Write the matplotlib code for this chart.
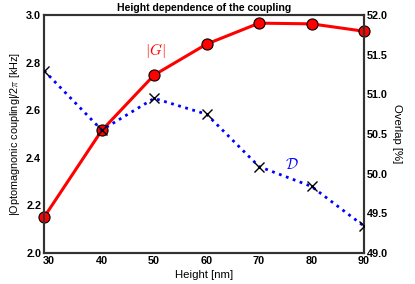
import matplotlib
matplotlib.use("Agg")
import matplotlib.pyplot as plt

# data
heights = [29, 40, 50, 60, 70, 80, 90]
coupling = [2.15, 2.515, 2.748, 2.878, 2.966, 2.963, 2.932]   # |G|/2pi [kHz]
overlap = [51.30, 50.55, 50.95, 50.75, 50.09, 49.84, 49.34]   # [%]

plt.rcParams['font.family'] = ['Liberation Sans', 'DejaVu Sans']
plt.rcParams['font.weight'] = 'bold'
plt.rcParams['mathtext.fontset'] = 'cm'

fig = plt.figure(figsize=(4.15, 2.84), dpi=100)
ax = fig.add_axes([0.106, 0.109, 0.771, 0.838])
ax2 = ax.twinx()

ax.plot(heights, coupling, '-o', color='red', lw=2.2, ms=8,
        mfc='red', mec='black', mew=0.8, clip_on=False, zorder=3)
ax2.plot(heights, overlap, ':', color='blue', lw=2.0, zorder=2)
ax2.plot(heights, overlap, 'x', color='black', ms=7, mew=1.0, zorder=3)

ax.set_xlim(29, 90)
ax.set_ylim(2.0, 3.0)
ax2.set_ylim(49.0, 52.0)
ax.set_xticks([30, 40, 50, 60, 70, 80, 90])
ax.set_yticks([2.0, 2.2, 2.4, 2.6, 2.8, 3.0])
ax2.set_yticks([49.0, 49.5, 50.0, 50.5, 51.0, 51.5, 52.0])

for a in (ax, ax2):
    a.tick_params(length=0, labelsize=7.8, pad=2)
    for s in a.spines.values():
        s.set_linewidth(1.5)
        s.set_color('#333333')

ax.text(50.2, 2.85, r'$|G|$', color='red', fontsize=11, ha='center', va='center')
ax2.text(76.3, 50.12, r'$\mathcal{D}$', color='blue', fontsize=11,
         ha='center', va='center')

ax.set_xlabel('Height [nm]', fontsize=8.2, labelpad=3)
ax.set_ylabel(r'|Optomagnonic coupling|/2$\pi$ [kHz]', fontsize=7.8, labelpad=3)
ax2.set_ylabel('Overlap [%]', fontsize=8.2, rotation=270, labelpad=10)
ax.set_title('Height dependence of the coupling', fontsize=7.6,
             fontweight='bold', pad=3)

fig.savefig('out.png', dpi=100)
